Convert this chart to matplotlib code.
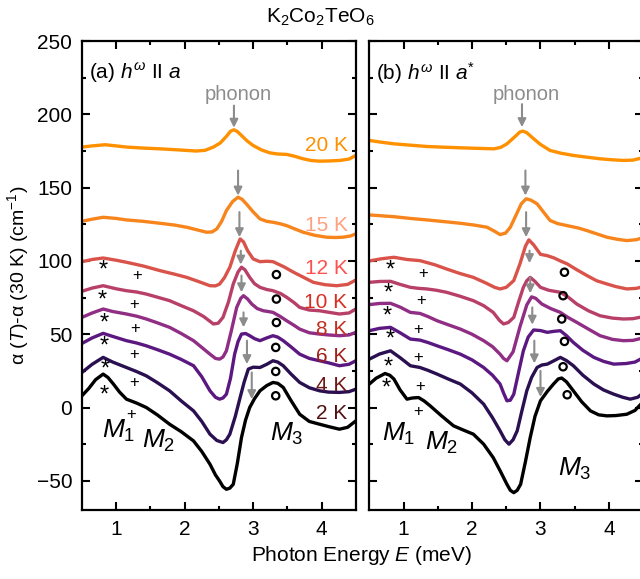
import matplotlib
matplotlib.use('Agg')
import matplotlib.pyplot as plt

plt.rcParams['font.family'] = ['Liberation Sans', 'DejaVu Sans']
plt.rcParams['mathtext.fontset'] = 'custom'
plt.rcParams['mathtext.rm'] = 'Liberation Sans'
plt.rcParams['mathtext.it'] = 'Liberation Sans:italic'

# ---- panel (a): h^w || a ----
e_a20 = [0.5, 0.65, 0.84, 1.0, 1.15, 1.4, 1.64, 1.9, 2.17, 2.3, 2.42, 2.52, 2.61, 2.67, 2.72, 2.77,
         2.83, 2.91, 3.0, 3.12, 3.24, 3.35, 3.49, 3.6, 3.73, 3.85, 3.97, 4.1, 4.27, 4.4, 4.5]
a20 = [177.7, 178.5, 179.3, 178.5, 177.7, 177, 176.5, 175.8, 175, 175.5, 177.7, 180.5, 185, 188.5, 189.5, 188.3,
       185.6, 182, 178.8, 175.8, 173.8, 173, 172.7, 171.5, 169.7, 168.5, 168.1, 168.2, 168.6, 169.5, 172]
e_a15 = [0.5, 0.65, 0.81, 1.0, 1.15, 1.4, 1.64, 1.85, 2.03, 2.2, 2.32, 2.4, 2.47, 2.54, 2.61, 2.7, 2.78,
         2.84, 2.9, 3.0, 3.1, 3.2, 3.29, 3.4, 3.49, 3.6, 3.73, 3.9, 4.07, 4.2, 4.31, 4.42, 4.5]
a15 = [127.1, 128.5, 129.8, 129, 128, 127, 125.7, 124.5, 123, 121, 119.6, 119.8, 121.9, 127, 134.4, 140.5, 143.5,
       142, 139, 133.5, 128.7, 127, 126.4, 125.3, 124.1, 122, 119.6, 117.5, 116.2, 116, 116.2, 117, 118.5]
e_a12 = [0.5, 0.65, 0.81, 1.0, 1.15, 1.4, 1.64, 1.85, 2.03, 2.2, 2.37, 2.45, 2.51, 2.58, 2.66, 2.74, 2.81,
         2.86, 2.92, 3.0, 3.1, 3.2, 3.29, 3.45, 3.59, 3.75, 3.88, 4.05, 4.22, 4.38, 4.5]
a12 = [99.5, 101, 102, 100.5, 99.1, 96.5, 93.4, 91, 88.8, 86, 83.1, 83, 84.2, 88.5, 95.7, 107, 115,
       113, 107, 101.4, 99.5, 99.8, 99.5, 96, 92.3, 88.5, 85.4, 83.8, 83.1, 84, 87]
e_a10 = [0.5, 0.65, 0.81, 1.0, 1.15, 1.3, 1.44, 1.6, 1.78, 1.95, 2.13, 2.28, 2.42, 2.49, 2.56, 2.64, 2.71,
         2.78, 2.83, 2.88, 2.95, 3.02, 3.1, 3.2, 3.29, 3.4, 3.49, 3.6, 3.68, 3.82, 3.97, 4.1, 4.26, 4.4, 4.5]
a10 = [79.3, 81.5, 83.1, 81, 79.7, 78.8, 77.4, 75.3, 72.9, 69.5, 66, 62, 57, 57.5, 61.5, 72, 84.3,
       92.5, 95.7, 94, 88.8, 84.5, 82, 80.5, 79.7, 77.8, 75.2, 71.5, 68.3, 66.5, 66, 65, 63.8, 64.5, 67.2]
e_a8 = [0.5, 0.65, 0.81, 0.95, 1.15, 1.3, 1.44, 1.6, 1.78, 1.95, 2.13, 2.25, 2.37, 2.45, 2.51, 2.56, 2.61,
        2.68, 2.76, 2.82, 2.86, 2.92, 2.98, 3.06, 3.15, 3.22, 3.29, 3.4, 3.49, 3.6, 3.68, 3.82, 3.97,
        4.1, 4.26, 4.4, 4.5]
a8 = [61.5, 64.5, 67.2, 65.5, 63.8, 62.3, 60.4, 57.8, 54.7, 50.5, 45.6, 41, 36.4, 33.5, 33, 34.5, 38.7,
      52, 68.3, 74.5, 76.3, 74, 70.6, 67.5, 66, 65.5, 64.9, 62, 59.2, 56, 53.5, 51, 50.1,
      49.5, 49, 49.5, 51.3]
e_a6 = [0.5, 0.65, 0.81, 0.95, 1.15, 1.3, 1.44, 1.6, 1.78, 1.95, 2.13, 2.25, 2.37, 2.45, 2.51, 2.56, 2.61,
        2.67, 2.73, 2.78, 2.83, 2.89, 2.95, 3.02, 3.1, 3.2, 3.29, 3.36, 3.44, 3.55, 3.68, 3.82, 3.97,
        4.1, 4.26, 4.4, 4.5]
a6 = [43.7, 47.5, 50.6, 48.5, 45.6, 44, 42.1, 39.5, 36.4, 32.8, 28.5, 21, 11.4, 7, 5.7, 6.5, 9.1,
      20, 36.4, 45, 50.1, 50.5, 49, 47, 45.6, 47.5, 49, 48, 45.6, 41.5, 36.4, 33.5, 31.9,
      30.5, 28.5, 29.5, 31.9]
e_a4 = [0.5, 0.65, 0.81, 0.95, 1.15, 1.3, 1.44, 1.6, 1.78, 1.95, 2.13, 2.25, 2.37, 2.47, 2.56, 2.61, 2.66,
        2.74, 2.81, 2.87, 2.93, 3.0, 3.1, 3.2, 3.29, 3.36, 3.44, 3.55, 3.68, 3.82, 3.97, 4.1, 4.26,
        4.4, 4.5]
a4 = [23.9, 29.5, 34.2, 31, 27.3, 24.5, 21.6, 17, 11.4, 4.5, -2.3, -9.5, -18.2, -22.5, -23.9, -22, -18.2,
      -6, 6.8, 17.5, 26.2, 27.5, 27.3, 29.5, 31.9, 31, 28.5, 23, 17.1, 13.5, 11.4, 10.5, 10.3,
      10.8, 12.5]
e_a2 = [0.5, 0.6, 0.7, 0.81, 0.88, 0.96, 1.05, 1.15, 1.3, 1.44, 1.6, 1.78, 1.95, 2.13, 2.25, 2.37, 2.45,
        2.51, 2.56, 2.61, 2.66, 2.71, 2.77, 2.83, 2.89, 2.95, 3.02, 3.1, 3.2, 3.29, 3.36, 3.44, 3.55,
        3.68, 3.82, 3.97, 4.1, 4.26, 4.38, 4.5]
a2 = [8, 13, 19, 22.8, 20.5, 16, 10.5, 5.7, 3, 0, -5, -11.4, -16.5, -22.8, -30, -38.7, -46,
      -50.1, -54, -55.8, -55, -52.4, -38, -20.5, -8.5, 0, 6, 11.4, 15, 17.1, 16.5, 13.7, 5,
      -4.6, -9.5, -11.4, -13, -14.8, -13.5, -9.1]

# ---- panel (b): h^w || a* ----
e_b20 = [0.5, 0.68, 0.86, 1.1, 1.34, 1.6, 1.83, 2.1, 2.32, 2.42, 2.51, 2.62, 2.7, 2.74, 2.8, 2.9,
         3.0, 3.14, 3.3, 3.48, 3.68, 3.87, 4.05, 4.21, 4.35, 4.5]
b20 = [182.2, 181, 179.9, 179, 178.1, 177.6, 177.2, 176.8, 176.5, 177.5, 179.9, 184.5, 188, 188.6, 187.5, 183.4,
       179.5, 175.4, 173.5, 172, 170.8, 169.7, 169, 168.6, 168.8, 170.5]
e_b15 = [0.5, 0.68, 0.86, 1.1, 1.34, 1.6, 1.83, 2.03, 2.22, 2.32, 2.41, 2.49, 2.56, 2.65, 2.72, 2.79,
         2.86, 2.95, 3.05, 3.14, 3.25, 3.39, 3.55, 3.68, 3.82, 3.97, 4.12, 4.26, 4.4, 4.5]
b15 = [131.4, 130.8, 130.2, 129, 128, 126.8, 125.7, 124.5, 123, 120.5, 118, 119, 123, 132, 139, 142.4,
       141.5, 139, 133, 127.6, 125.5, 124.1, 122.5, 120.7, 118.5, 116.2, 114.8, 113.9, 114.5, 116]
e_b12 = [0.5, 0.68, 0.86, 1.05, 1.24, 1.45, 1.63, 1.82, 2.02, 2.2, 2.33, 2.41, 2.5, 2.61, 2.7, 2.78,
         2.83, 2.9, 3.0, 3.1, 3.2, 3.29, 3.39, 3.53, 3.68, 3.82, 3.97, 4.1, 4.26, 4.4, 4.5]
b12 = [100, 101.5, 102.5, 101, 100.2, 97.5, 94.5, 91.5, 88.8, 85, 82, 80.9, 82, 86.6, 98, 110,
       114.4, 111, 104.5, 103.6, 102, 100, 98, 94, 90, 86.5, 84.3, 82.5, 80.9, 81.3, 82.5]
e_b10 = [0.5, 0.65, 0.81, 0.95, 1.1, 1.22, 1.34, 1.48, 1.63, 1.82, 2.02, 2.17, 2.31, 2.4, 2.46, 2.53,
         2.61, 2.68, 2.75, 2.8, 2.85, 2.92, 3.0, 3.12, 3.29, 3.4, 3.53, 3.7, 3.87, 4.05, 4.21, 4.35, 4.5]
b10 = [85.4, 86, 86.1, 84, 82, 81.3, 80.9, 80, 78.6, 76, 72.9, 69.5, 64.9, 59.5, 57, 58,
       61.5, 72, 82, 86.5, 88.8, 86, 82, 80, 78.6, 75.5, 70.6, 66, 62.6, 61, 60.4, 60.6, 62]
e_b8 = [0.5, 0.65, 0.81, 0.95, 1.1, 1.24, 1.36, 1.49, 1.65, 1.83, 2.0, 2.17, 2.3, 2.41, 2.46, 2.51,
        2.6, 2.7, 2.8, 2.87, 2.93, 3.02, 3.15, 3.29, 3.4, 3.53, 3.7, 3.87, 4.05, 4.21, 4.35, 4.5]
b8 = [70.2, 71, 71.1, 68.5, 64.9, 64.2, 62, 59.2, 56.5, 53.5, 50, 45.6, 41.5, 36.4, 33.5, 31.9,
      38, 55, 70, 75.5, 74.5, 70.6, 67.5, 64.9, 61.5, 58.1, 53.5, 49, 46.5, 45.6, 45.8, 47.5]
e_b6 = [0.5, 0.65, 0.81, 0.95, 1.1, 1.24, 1.36, 1.49, 1.65, 1.83, 2.0, 2.17, 2.3, 2.41, 2.46, 2.51,
        2.56, 2.61, 2.68, 2.75, 2.82, 2.9, 3.0, 3.1, 3.2, 3.29, 3.38, 3.48, 3.62, 3.78, 3.92, 4.07,
        4.25, 4.38, 4.5]
b6 = [52.4, 54, 54.7, 51, 46.7, 46, 44.3, 42.1, 39.5, 36.4, 32.5, 27.3, 22, 16, 10, 4.6,
      5, 9.1, 24, 38.7, 48, 52.9, 52.5, 51.3, 52, 52.4, 49, 44.4, 39, 34.2, 31.5, 29.6,
      30, 31, 34]
e_b4 = [0.5, 0.65, 0.81, 0.95, 1.1, 1.24, 1.36, 1.49, 1.65, 1.83, 2.0, 2.17, 2.3, 2.41, 2.48, 2.54,
        2.6, 2.66, 2.73, 2.8, 2.87, 2.95, 3.02, 3.1, 3.2, 3.29, 3.38, 3.48, 3.62, 3.78, 3.92, 4.07,
        4.2, 4.31, 4.42, 4.5]
b4 = [33, 36.5, 38.7, 34, 28.5, 27.3, 25.3, 22.8, 19.5, 16, 10, 2.3, -7, -15.9, -22, -25,
      -22, -15.9, -2, 11.4, 20.5, 27.3, 29, 29.6, 32, 34.2, 32, 28.5, 22, 16, 12, 9.1,
      7, 5.7, 7, 10]
e_b2 = [0.5, 0.6, 0.73, 0.8, 0.86, 0.95, 1.05, 1.13, 1.22, 1.3, 1.39, 1.55, 1.73, 1.88, 2.02, 2.17,
        2.31, 2.42, 2.51, 2.56, 2.61, 2.66, 2.71, 2.78, 2.85, 2.92, 3.0, 3.1, 3.19, 3.26, 3.31, 3.38,
        3.48, 3.6, 3.73, 3.85, 3.97, 4.1, 4.26, 4.38, 4.5]
b2 = [16, 20, 23.2, 22, 19.4, 12, 5.7, 6.5, 6.8, 4.5, 1.1, -5.5, -12.5, -15.5, -18.2, -25,
      -34.2, -44, -52.4, -56.5, -58.1, -56.5, -52.4, -37, -20.5, -6, 4.6, 11, 16, 19.5, 20.1, 17.5,
      11.4, 4, -2.3, -5, -5.7, -5.5, -4.6, -2, 4]

temps = ['20 K', '15 K', '12 K', '10 K', '8 K', '6 K', '4 K', '2 K']
line_colors = ['#ff9000', '#f7851c', '#d9534a', '#b84068', '#8f2e84', '#5a1880', '#2a1050', '#000000']
text_colors = ['#ff9000', '#ffa080', '#ff5050', '#d83020', '#c03020', '#a02018', '#701818', '#501010']
label_y = [178.9, 124.2, 94.8, 71.8, 52.9, 34.6, 14.8, -4.4]

# marker positions (12 K ... 2 K)
star_a_e = [0.81, 0.80, 0.83, 0.82, 0.84, 0.83]
star_a_y = [95.7, 75.2, 59.2, 43.3, 27.8, 10.3]
plus_a_e = [1.31, 1.26, 1.27, 1.26, 1.26, 1.22]
plus_a_y = [90, 70.6, 54.2, 36, 17.1, -4.5]
circ_a_e = [3.34, 3.34, 3.34, 3.33, 3.33, 3.33]
circ_a_y = [90.7, 74, 58, 41, 24.6, 8]
star_b_e = [0.8, 0.78, 0.76, 0.8, 0.78, 0.75]
star_b_y = [95.2, 79.7, 64.2, 48.3, 29.6, 14.8]
plus_b_e = [1.28, 1.26, 1.22, 1.22, 1.24, 1.21]
plus_b_y = [91.6, 73.3, 53.5, 34.2, 14.1, -2.7]
circ_b_e = [3.35, 3.33, 3.31, 3.35, 3.33, 3.39]
circ_b_y = [92.3, 76.3, 60.4, 45.1, 27.8, 8.7]

# phonon arrows: (E, y_start, y_end) for 20 K ... 2 K
arr_a_e = [2.72, 2.78, 2.80, 2.82, 2.83, 2.86, 2.91, 2.98]
arr_a_y0 = [206, 161.7, 133.3, 107, 90, 64.9, 45.6, 23.9]
arr_a_y1 = [190.9, 144.6, 116.2, 97.5, 78.6, 54.7, 29.6, 5.7]
arr_b_e = [2.73, 2.78, 2.79, 2.84, 2.85, 2.88, 2.91, 3.0]
arr_b_y0 = [207, 161.7, 133.3, 107, 88.8, 68.3, 45.6, 25]
arr_b_y1 = [191.3, 144.6, 116.2, 98.5, 77.9, 56.5, 30.1, 7.2]

curves_a = [(e_a20, a20), (e_a15, a15), (e_a12, a12), (e_a10, a10),
            (e_a8, a8), (e_a6, a6), (e_a4, a4), (e_a2, a2)]
curves_b = [(e_b20, b20), (e_b15, b15), (e_b12, b12), (e_b10, b10),
            (e_b8, b8), (e_b6, b6), (e_b4, b4), (e_b2, b2)]

fig = plt.figure(figsize=(6.4, 5.79), dpi=100)
ax1 = fig.add_axes([0.128, 0.119, 0.428, 0.810])
ax2 = fig.add_axes([0.577, 0.119, 0.428, 0.810])
grey = '#8c8c8c'

def style(ax, labels):
    ax.set_xlim(0.5, 4.5)
    ax.set_ylim(-70, 250)
    ax.set_xticks([1, 2, 3, 4])
    ax.set_xticks([1.5, 2.5, 3.5], minor=True)
    ax.set_yticks([-50, 0, 50, 100, 150, 200, 250])
    ax.set_yticks([-25, 25, 75, 125, 175, 225], minor=True)
    ax.tick_params(which='both', direction='in', top=True, right=True, width=1.5, labelsize=15)
    ax.tick_params(axis='x', pad=7)
    ax.tick_params(axis='y', pad=7)
    ax.tick_params(which='major', length=6)
    ax.tick_params(which='minor', length=3)
    if not labels:
        ax.tick_params(axis='y', labelleft=False)
    for s in ax.spines.values():
        s.set_linewidth(1.6)

def draw(ax, curves, se, sy, pe, py, ce, cy, ae, ay0, ay1):
    for (e, v), c in zip(curves, line_colors):
        ax.plot(e, v, color=c, lw=2.4, solid_joinstyle='round', solid_capstyle='round')
    for x, y in zip(se, sy):
        ax.text(x, y - 2, '*', fontsize=17, ha='center', va='center', color='black')
    for x, y in zip(pe, py):
        ax.text(x, y, '+', fontsize=12, ha='center', va='center', color='black')
    ax.scatter(ce, cy, s=28, facecolors='none', edgecolors='black', linewidths=1.6, zorder=5)
    for x, y0, y1 in zip(ae, ay0, ay1):
        ax.annotate('', xy=(x, y1), xytext=(x, y0),
                    arrowprops=dict(arrowstyle='-|>', color=grey, lw=1.5,
                                    mutation_scale=12, shrinkA=0, shrinkB=0))
    ax.text(ae[0] + 0.06, 213.5, 'phonon', fontsize=14.5, color=grey, ha='center', va='center')

style(ax1, True)
style(ax2, False)
draw(ax1, curves_a, star_a_e, star_a_y, plus_a_e, plus_a_y, circ_a_e, circ_a_y,
     arr_a_e, arr_a_y0, arr_a_y1)
draw(ax2, curves_b, star_b_e, star_b_y, plus_b_e, plus_b_y, circ_b_e, circ_b_y,
     arr_b_e, arr_b_y0, arr_b_y1)

for t, c, y in zip(temps, text_colors, label_y):
    ax1.text(4.38, y, t, fontsize=15, color=c, ha='right', va='center')

ax1.text(0.6, 228, r'(a) $h^{\omega}$ II $a$', fontsize=15, ha='left', va='center')
ax2.text(0.6, 228, r'(b) $h^{\omega}$ II $a^{*}$', fontsize=15, ha='left', va='center')

ax1.text(0.8, -16, r'$M_1$', fontsize=19, ha='left', va='center')
ax1.text(1.38, -23, r'$M_2$', fontsize=19, ha='left', va='center')
ax1.text(3.25, -18, r'$M_3$', fontsize=19, ha='left', va='center')
ax2.text(0.68, -18, r'$M_1$', fontsize=19, ha='left', va='center')
ax2.text(1.32, -24, r'$M_2$', fontsize=19, ha='left', va='center')
ax2.text(3.26, -42, r'$M_3$', fontsize=19, ha='left', va='center')

ax1.set_ylabel(r'α ($T$)-α (30 K) (cm$^{-1}$)', fontsize=14, labelpad=4)
fig.text(0.565, 0.04, r'Photon Energy $E$ (meV)', fontsize=15, ha='center', va='center')
fig.text(0.5, 0.97, r'K$_2$Co$_2$TeO$_6$', fontsize=15, ha='center', va='center')

fig.savefig('out.png', dpi=100)
